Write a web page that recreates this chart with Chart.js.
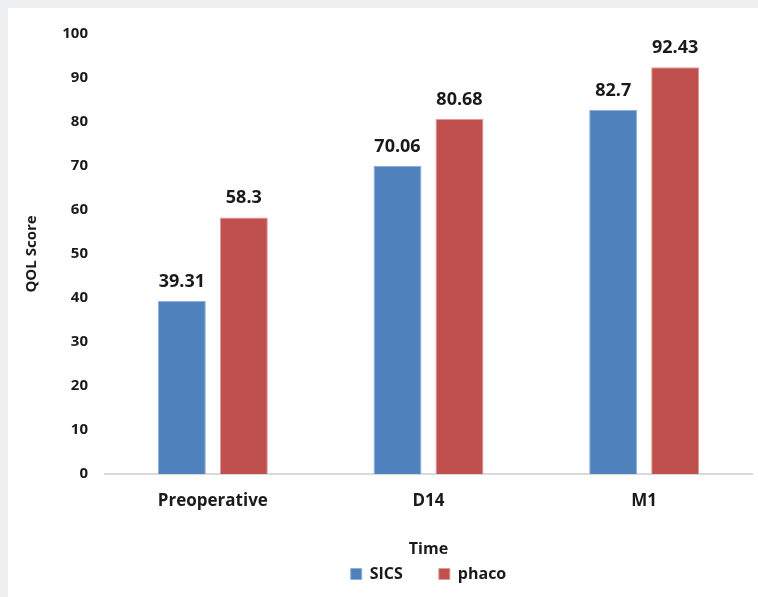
<!DOCTYPE html>
<html>
<head>
<meta charset="utf-8">
<script src="https://cdn.jsdelivr.net/npm/chart.js@4"></script>
<style>
  body { margin: 0; background: #eef0f2; }
  #wrap { position: absolute; left: 8px; top: 8px; width: 750px; height: 589px; background: #fff; }
</style>
</head>
<body>
<div id="wrap"><canvas id="qol"></canvas></div>
<script>
const categories = ['Preoperative', 'D14', 'M1'];
const sics = [39.31, 70.06, 82.7];
const phaco = [58.3, 80.68, 92.43];
const yTicks = [0, 10, 20, 30, 40, 50, 60, 70, 80, 90, 100];

const FONT = "'Open Sans', 'Liberation Sans', sans-serif";

// value labels above each bar
const barLabels = {
    id: 'barLabels',
    afterDatasetsDraw(chart) {
        const ctx = chart.ctx;
        ctx.save();
        ctx.font = 'bold 18px ' + FONT;
        ctx.fillStyle = '#1a1a1a';
        ctx.textAlign = 'center';
        ctx.textBaseline = 'alphabetic';
        chart.data.datasets.forEach((ds, i) => {
            chart.getDatasetMeta(i).data.forEach((bar, j) => {
                ctx.fillText(String(ds.data[j]), bar.x, bar.y - 14);
            });
        });
        ctx.restore();
    }
};

const ctx = document.getElementById('qol').getContext('2d');
const chart = new Chart(ctx, {
    type: 'bar',
    data: {
        labels: categories,
        datasets: [{
            label: 'SICS',
            data: sics,
            backgroundColor: '#4f81bd',
            borderColor: '#8fb0d9',
            borderWidth: 1
        }, {
            label: 'phaco',
            data: phaco,
            backgroundColor: '#c0504d',
            borderColor: '#e09a98',
            borderWidth: 1
        }]
    },
    options: {
        responsive: true,
        maintainAspectRatio: false,
        animation: false,
        datasets: {
            bar: { categoryPercentage: 0.575, barPercentage: 0.774 }
        },
        layout: { padding: { top: 26, right: 6, left: 0, bottom: 5 } },
        plugins: {
            legend: {
                position: 'bottom',
                fullSize: false,
                labels: {
                    boxWidth: 11,
                    boxHeight: 11,
                    padding: 36,
                    color: '#1a1a1a',
                    font: { family: FONT, size: 16, weight: 'bold' }
                }
            },
            tooltip: { enabled: false }
        },
        scales: {
            x: {
                afterFit(scale) { scale.height = 56; },
                grid: { display: false, drawTicks: false },
                border: { color: '#d9d9d9', width: 2 },
                ticks: {
                    color: '#1a1a1a',
                    padding: 17,
                    font: { family: FONT, size: 17, weight: 'bold' }
                },
                title: {
                    display: true,
                    text: 'Time',
                    color: '#1a1a1a',
                    padding: { top: 0, bottom: -29 },
                    font: { family: FONT, size: 16, weight: 'bold' }
                }
            },
            y: {
                min: 0,
                max: 100,
                afterBuildTicks(scale) {
                    scale.ticks = yTicks.map(v => ({ value: v }));
                },
                afterFit(scale) { scale.width = 97; },
                grid: { display: false, drawTicks: false },
                border: { display: false },
                ticks: {
                    color: '#1a1a1a',
                    padding: 17,
                    font: { family: FONT, size: 15, weight: 'bold' }
                },
                title: {
                    display: true,
                    text: 'QOL Score',
                    color: '#1a1a1a',
                    padding: { top: 15, bottom: 0 },
                    font: { family: FONT, size: 15, weight: 'bold' }
                }
            }
        }
    },
    plugins: [barLabels]
});
</script>
</body>
</html>
